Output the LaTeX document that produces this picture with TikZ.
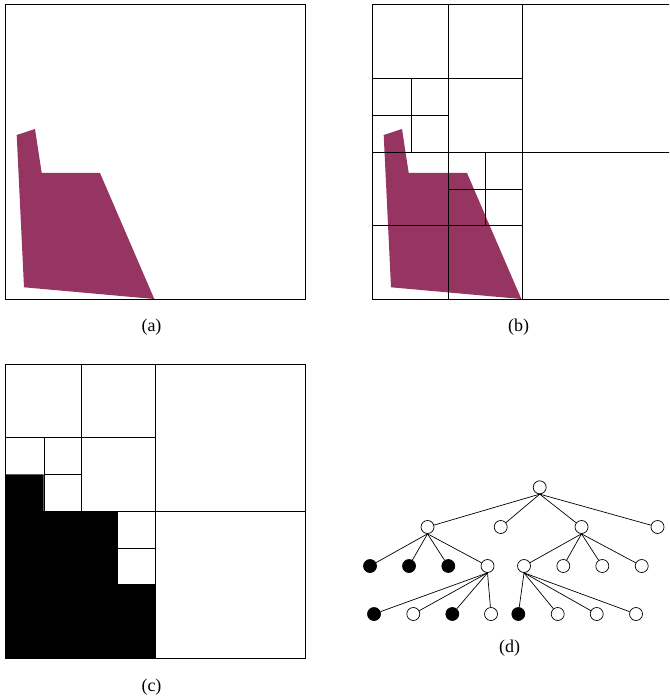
\documentclass[tikz,border=0pt]{standalone}
\usepackage{fontspec}
\setmainfont{Liberation Serif}
\definecolor{plum}{RGB}{150,52,98}
\begin{document}
\begin{tikzpicture}[x=1pt,y=-1pt,
  grid/.style={line width=0.8pt,black},
  region/.style={fill=plum,draw=none},
  tnode/.style={circle,draw,line width=0.7pt,minimum size=13pt,inner sep=0pt,fill=white},
  bnode/.style={tnode,fill=black},
  edge/.style={line width=0.7pt},
  lbl/.style={font=\fontsize{18}{20}\selectfont,inner sep=0pt}]
\useasboundingbox (0,0) rectangle (669,700);
\clip (0,0) rectangle (669,700);
% ---------- (a)
\fill[region] (16.7,135) -- (35,129) -- (41.7,173) -- (100,173) -- (154.3,299) -- (24,287.3) -- cycle;
\draw[grid] (5,4.7) rectangle (305.5,299);
\node[lbl] (la) at (151.5,327) {(a)};
% ---------- (b)
\begin{scope}[xshift=367pt]
\fill[region] (16.7,135) -- (35,129) -- (41.7,173) -- (100,173) -- (154.3,299) -- (24,287.3) -- cycle;
\end{scope}
\draw[grid] (372.3,4.7) rectangle (672.5,299);
\draw[grid] (448.3,4.7) -- (448.3,299);
\draw[grid] (522.3,4.7) -- (522.3,299);
\draw[grid] (372.3,78.7) -- (522.3,78.7);
\draw[grid] (411.3,78.7) -- (411.3,152.3);
\draw[grid] (372.3,115.3) -- (448.3,115.3);
\draw[grid] (372.3,152.3) -- (672.5,152.3);
\draw[grid] (485.3,152.3) -- (485.3,225.7);
\draw[grid] (448.3,189) -- (522.3,189);
\draw[grid] (372.3,225.7) -- (522.3,225.7);
\node[lbl] (lb) at (518.5,327) {(b)};
% ---------- (c)
\fill[black] (5,474.3) -- (43.7,474.3) -- (43.7,511) -- (117.3,511) -- (117.3,584.7) -- (155.3,584.7) -- (155.3,658.7) -- (5,658.7) -- cycle;
\draw[grid] (5,364.3) rectangle (305.5,658.7);
\draw[grid] (81.3,364.3) -- (81.3,511);
\draw[grid] (155.3,364.3) -- (155.3,658.7);
\draw[grid] (5,437.7) -- (155.3,437.7);
\draw[grid] (44.3,437.7) -- (44.3,511);
\draw[grid] (44.3,474.3) -- (81.3,474.3);
\draw[grid] (5,511.3) -- (305.5,511.3);
\draw[grid] (117.3,548.3) -- (155.3,548.3);
\draw[grid] (117.3,511) -- (117.3,584.7);
\draw[grid] (117.3,584.7) -- (155.3,584.7);
\node[lbl] (lc) at (151.5,687) {(c)};
% ---------- (d) tree
\node[tnode] (r) at (539.7,487.3) {};
\node[tnode] (a1) at (427.5,527) {};
\node[tnode] (a2) at (500.7,527) {};
\node[tnode] (a3) at (581.5,527) {};
\node[tnode] (a4) at (657.5,527) {};
\node[bnode] (b1) at (370,566) {};
\node[bnode] (b2) at (409,566) {};
\node[bnode] (b3) at (448.3,566) {};
\node[tnode] (b4) at (487.5,566) {};
\node[tnode] (b5) at (524,566) {};
\node[tnode] (b6) at (563.3,566) {};
\node[tnode] (b7) at (602.3,566) {};
\node[tnode] (b8) at (641.7,566) {};
\node[bnode] (c1) at (374,614) {};
\node[tnode] (c2) at (413.3,614) {};
\node[bnode] (c3) at (452.3,614) {};
\node[tnode] (c4) at (491,614) {};
\node[bnode] (c5) at (518.3,614) {};
\node[tnode] (c6) at (557.7,614) {};
\node[tnode] (c7) at (596.7,614) {};
\node[tnode] (c8) at (636,614) {};
\foreach \c in {a1,a2,a3,a4} \draw[edge] (r.south) -- (\c);
\foreach \c in {b1,b2,b3,b4} \draw[edge] (a1.south) -- (\c);
\foreach \c in {b5,b6,b7,b8} \draw[edge] (a3.south) -- (\c);
\foreach \c in {c1,c2,c3,c4} \draw[edge] (b4.south) -- (\c);
\foreach \c in {c5,c6,c7,c8} \draw[edge] (b5.south) -- (\c);
\node[lbl] (ld) at (509.5,648) {(d)};
\end{tikzpicture}
\end{document}
